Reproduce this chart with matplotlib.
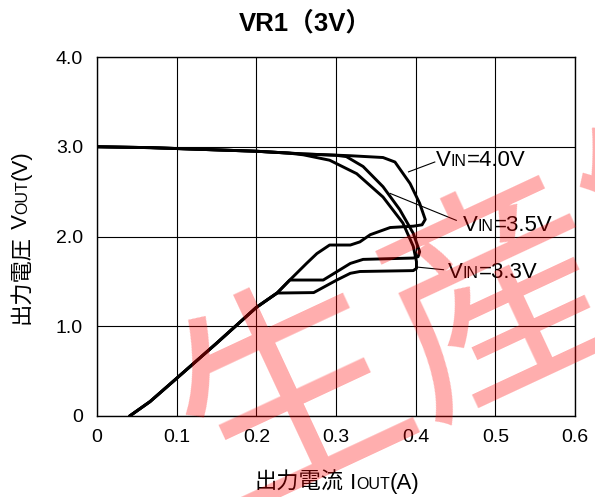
import matplotlib
matplotlib.use('Agg')
import matplotlib.pyplot as plt
from matplotlib.transforms import IdentityTransform

FONTS = ['Liberation Sans', 'Noto Sans CJK JP']
plt.rcParams['font.family'] = FONTS

# ---- data ----
# shared short-circuit part (from the foldback knee down to 0 V)
diag_i = [0.200, 0.150, 0.100, 0.0665, 0.041]
diag_v = [1.21, 0.81, 0.42, 0.16, 0.0]

# VIN = 4.0 V
i_40 = [0, 0.067, 0.2, 0.259, 0.318, 0.359, 0.374, 0.393, 0.405, 0.412, 0.408,
        0.397, 0.368, 0.343, 0.330, 0.318, 0.292, 0.276, 0.263, 0.242, 0.226]
v_40 = [3.0, 2.99, 2.95, 2.92, 2.90, 2.88, 2.83, 2.59, 2.37, 2.19, 2.13,
        2.115, 2.10, 2.02, 1.94, 1.905, 1.905, 1.81, 1.70, 1.515, 1.37]

# VIN = 3.5 V
i_35 = [0, 0.067, 0.2, 0.259, 0.300, 0.313, 0.334, 0.359, 0.380, 0.397, 0.405,
        0.403, 0.397, 0.334, 0.318, 0.284, 0.242, 0.226]
v_35 = [3.0, 2.99, 2.95, 2.92, 2.905, 2.89, 2.78, 2.555, 2.30, 2.035, 1.83,
        1.775, 1.76, 1.745, 1.70, 1.515, 1.515, 1.37]

# VIN = 3.3 V
i_33 = [0, 0.067, 0.2, 0.240, 0.259, 0.292, 0.326, 0.359, 0.384, 0.397, 0.401,
        0.401, 0.397, 0.330, 0.318, 0.301, 0.272, 0.226]
v_33 = [3.0, 2.99, 2.95, 2.93, 2.91, 2.85, 2.70, 2.44, 2.15, 1.89, 1.72,
        1.645, 1.62, 1.61, 1.59, 1.515, 1.375, 1.37]

curves = [(i_40, v_40), (i_35, v_35), (i_33, v_33)]
labels = ['4.0V', '3.5V', '3.3V']
# leader line: point on curve -> label end
leader_from = [(0.391, 2.72), (0.368, 2.48), (0.401, 1.66)]
leader_to = [(0.424, 2.83), (0.451, 2.18), (0.435, 1.63)]

x_ticks = [0, 0.1, 0.2, 0.3, 0.4, 0.5, 0.6]
x_ticklabels = ['0', '0.1', '0.2', '0.3', '0.4', '0.5', '0.6']
y_ticks = [0, 1, 2, 3, 4]
y_ticklabels = ['0', '1.0', '2.0', '3.0', '4.0']

W, H = 595, 497
fig = plt.figure(figsize=(W / 100, H / 100), dpi=100)
ax = fig.add_axes([97 / W, 81 / H, 478 / W, 359 / H])

for i, v in curves:
    ax.plot(i + diag_i, v + diag_v, color='black', lw=2.1,
            solid_joinstyle='round', solid_capstyle='round', zorder=3)

for p0, p1 in zip(leader_from, leader_to):
    ax.plot([p0[0], p1[0]], [p0[1], p1[1]], color='black', lw=0.8, zorder=3)

ax.set_xlim(0, 0.6)
ax.set_ylim(0, 4.0)
ax.set_xticks(x_ticks, x_ticklabels)
ax.set_yticks(y_ticks, y_ticklabels)
ax.tick_params(length=0, labelsize=14, colors='black')
ax.tick_params(axis='x', pad=9)
ax.tick_params(axis='y', pad=10)
ax.grid(color='black', lw=0.8)
for s in ax.spines.values():
    s.set_linewidth(1.0)


def rich_text(x, y, parts, rot=0, ha='center', weight='normal', **kw):
    # x, y are pixels of the picture, y counted from the top
    r = fig.canvas.get_renderer()
    ts = []
    for s, fs in parts:
        t = fig.text(0, 0, s, fontsize=fs, family=FONTS, weight=weight,
                     transform=IdentityTransform(), ha='left', va='baseline',
                     rotation_mode='anchor', **kw)
        ts.append(t)
    widths = [t.get_window_extent(r).width for t in ts]
    pos = -sum(widths) / 2 if ha == 'center' else 0
    yy = H - y
    for t, w in zip(ts, widths):
        if rot == 0:
            t.set_position((x + pos, yy))
        else:
            t.set_position((x, yy + pos))
            t.set_rotation(90)
        pos += w
    return ts


# labels for the curves
label_pos = [(436, 166), (463, 231), (448, 278)]
for (x, y), lab in zip(label_pos, labels):
    rich_text(x, y, [('V', 16), ('IN', 11.5), ('=' + lab, 16)], ha='left')

# title and axis labels
rich_text(305, 30, [('VR1（3V）', 18.5)], weight='bold')
rich_text(337, 489, [('出力電流', 16), (' I', 16), ('OUT', 11.5), ('(A)', 16)])
rich_text(27, 237, [('出力電圧', 16), (' V', 16), ('OUT', 11.5), ('(V)', 16)], rot=90)

# watermark
fig.text(192, 42, '生産終了', fontsize=165, family=FONTS, weight='normal',
         color='red', alpha=0.32, rotation=25, rotation_mode='anchor',
         ha='left', va='center', transform=IdentityTransform(), zorder=10)

fig.savefig('out.png', dpi=100)
